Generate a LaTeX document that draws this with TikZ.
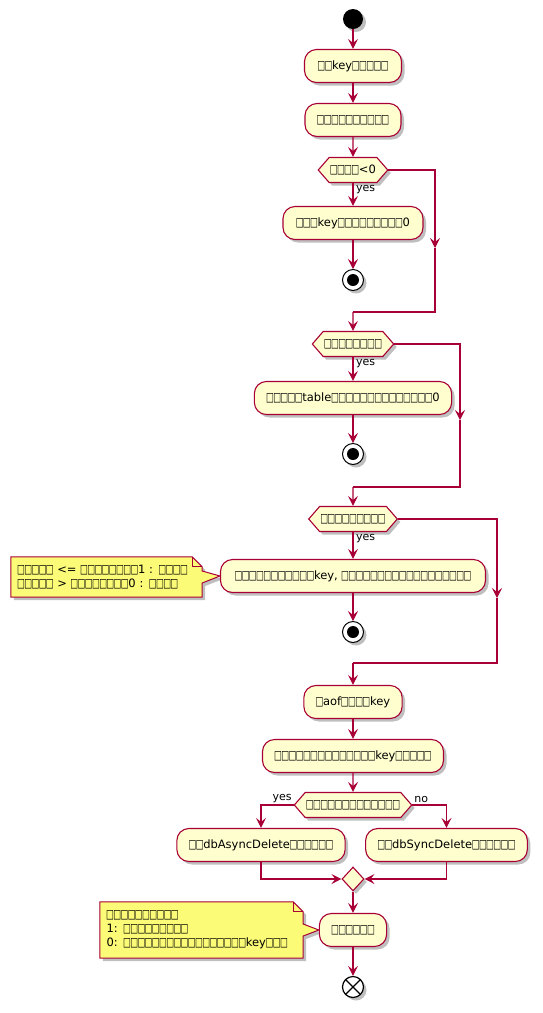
\documentclass[tikz,border=0pt]{standalone}
\usepackage{fontspec}
\setmainfont{DejaVu Sans}
\usetikzlibrary{positioning,shapes.geometric,shapes.symbols,shadows,arrows.meta,backgrounds}

\definecolor{umlred}{HTML}{A80036}
\definecolor{umlfill}{HTML}{FEFECE}
\definecolor{notefill}{HTML}{FBFB77}

\newcommand{\tofubox}{\makebox[7.2pt]{\scalebox{0.72}[1.08]{□}}}
\newcommand{\tofu}[1]{\foreach\i in {1,...,#1}{\tofubox}}

\tikzset{
  umlshadow/.style={drop shadow={shadow xshift=3pt, shadow yshift=-3pt, fill=black, opacity=0.25}},
  act/.style={rectangle, rounded corners=12pt, draw=umlred, fill=umlfill, line width=1.1pt,
    minimum height=33pt, inner xsep=12pt, umlshadow},
  dec/.style={signal, signal to=east and west, signal pointer angle=98, draw=umlred, fill=umlfill,
    line width=1.1pt, minimum height=25pt, inner xsep=1pt, inner ysep=0pt, umlshadow},
  merge/.style={diamond, draw=umlred, fill=umlfill, line width=1.1pt, minimum width=22pt,
    minimum height=24pt, inner sep=0pt, umlshadow},
  startnode/.style={circle, fill=black, minimum size=20pt, inner sep=0pt, umlshadow},
  stopnode/.style={circle, draw=black, fill=white, line width=1pt, minimum size=21pt, inner sep=0pt,
    path picture={\fill[black] (path picture bounding box.center) circle (6pt);}, umlshadow},
  endnode/.style={circle, draw=black, fill=white, line width=1.2pt, minimum size=21pt, inner sep=0pt,
    path picture={\draw[black, line width=1.2pt] (path picture bounding box.north west) -- (path picture bounding box.south east)
      (path picture bounding box.north east) -- (path picture bounding box.south west);}, umlshadow},
  note/.style={rectangle, inner xsep=6.5pt, inner ysep=0pt, align=left},
  notebg/.style={draw=umlred, fill=notefill, line width=1pt, umlshadow},
  flow/.style={draw=umlred, line width=1.1pt, -{Stealth[length=10pt,width=10pt,inset=4pt]}},
  line/.style={draw=umlred, line width=1.1pt},
  lbl/.style={font=\fontsize{11}{13}\selectfont, inner sep=1.5pt}
}

\begin{document}
\begin{tikzpicture}[x=1pt, y=-1pt, on grid, node distance=54pt,
  font=\fontsize{11.5}{14}\selectfont]
  \useasboundingbox (0,0) rectangle (543,1013);

  % main column
  \node[startnode] (start) at (353,19) {};
  \node[act, minimum width=97pt]  (b1) [below=47pt of start] {\tofu{2}key\tofu{5}};
  \node[act, minimum width=89pt]  (b2) [below=54pt of b1] {\tofu{10}};
  \node[dec]                      (d1) [below=50pt of b2] {\tofu{4}<0};
  \node[act, minimum width=140pt] (b3) [below=53pt of d1] {\tofu{3}key\tofu{9}0};
  \node[stopnode]                 (s1) [below=57pt of b3] {};
  \node[dec]                      (d2) [below=64pt of s1] {\tofu{8}};
  \node[act, minimum width=193pt] (b4) [below=54pt of d2] {\tofu{5}table\tofu{14}0};
  \node[stopnode]                 (s2) [below=56pt of b4] {};
  \node[dec]                      (d3) [below=65pt of s2] {\tofu{9}};
  \node[act, minimum width=265pt] (b5) [below=57pt of d3] {\tofu{11}key, \tofu{18}};
  \node[stopnode]                 (s3) [below=56pt of b5] {};
  \node[act, minimum width=96pt]  (b6) [below=70pt of s3] {\tofu{1}aof\tofu{4}key};
  \node[act, minimum width=181pt] (b7) [below=54pt of b6] {\tofu{14}key\tofu{5}};
  \node[dec]                      (d4) [below=49pt of b7] {\tofu{13}};
  \node[act, minimum width=168pt] (b8) at (261,845) {\tofu{2}dbAsyncDelete\tofu{6}};
  \node[act, minimum width=161pt] (b9) at (446.5,845) {\tofu{2}dbSyncDelete\tofu{6}};
  \node[merge]                    (mg) [below=74pt of d4] {};
  \node[act, minimum width=63pt]  (b10) [below=51pt of mg] {\tofu{6}};
  \node[endnode]                  (end) [below=57pt of b10] {};

  % notes
  \node[note, text width=178pt, minimum height=40pt] (n1) at (106.5,577)
    {\tofu{5} <= \tofu{8}1 : \tofu{4}\\\tofu{5} > \tofu{8}0 : \tofu{4}};
  \node[note, text width=190pt, minimum height=56pt] (n2) at (201.5,930)
    {\tofu{10}\\1: \tofu{9}\\0: \tofu{17}key\tofu{3}};
  \begin{scope}[on background layer]
    \foreach \n/\t in {n1/b5, n2/b10} {
      \draw[notebg] (\n.south west) -- (\n.north west) -- ([xshift=-10pt]\n.north east)
        -- ([yshift=-10pt]\n.north east) -- ([yshift=6pt]\n.east) -- (\t.west)
        -- ([yshift=-6pt]\n.east) -- (\n.south east) -- cycle;
      \draw[umlred, line width=1pt] ([xshift=-10pt]\n.north east) |- ([yshift=-10pt]\n.north east);
    }
  \end{scope}

  % branch corners
  \coordinate (j1) at (435,248);
  \coordinate (r1) at (435,312);
  \coordinate (m1) at (353,312);
  \coordinate (j2) at (460,420);
  \coordinate (r2) at (460,487);
  \coordinate (m2) at (353,487);
  \coordinate (j3) at (497,598);
  \coordinate (r3) at (497,663);
  \coordinate (m3) at (353,663);

  % connectors
  \draw[flow] (start) -- (b1);
  \draw[flow] (b1) -- (b2);
  \draw[flow] (b2) -- (d1);
  \draw[flow] (d1.south) -- node[lbl, pos=0, anchor=north west, xshift=1pt] {yes} (b3.north);
  \draw[flow] (b3) -- (s1);
  \draw[flow] (d1.east) -| (j1);
  \draw[line] (j1) -- (r1) -- (m1);
  \draw[flow] (m1) -- (d2);
  \draw[flow] (d2.south) -- node[lbl, pos=0, anchor=north west, xshift=1pt] {yes} (b4.north);
  \draw[flow] (b4) -- (s2);
  \draw[flow] (d2.east) -| (j2);
  \draw[line] (j2) -- (r2) -- (m2);
  \draw[flow] (m2) -- (d3);
  \draw[flow] (d3.south) -- node[lbl, pos=0, anchor=north west, xshift=1pt] {yes} (b5.north);
  \draw[flow] (b5) -- (s3);
  \draw[flow] (d3.east) -| (j3);
  \draw[line] (j3) -- (r3) -- (m3);
  \draw[flow] (m3) -- (b6);
  \draw[flow] (b6) -- (b7);
  \draw[flow] (b7) -- (d4);
  \draw[flow] (d4.west) -| node[lbl, pos=0, anchor=south east] {yes} (b8.north);
  \draw[flow] (d4.east) -| node[lbl, pos=0, anchor=south west] {no} (b9.north);
  \draw[flow] (b8.south) |- (mg.west);
  \draw[flow] (b9.south) |- (mg.east);
  \draw[flow] (mg) -- (b10);
  \draw[flow] (b10) -- (end);
\end{tikzpicture}
\end{document}
